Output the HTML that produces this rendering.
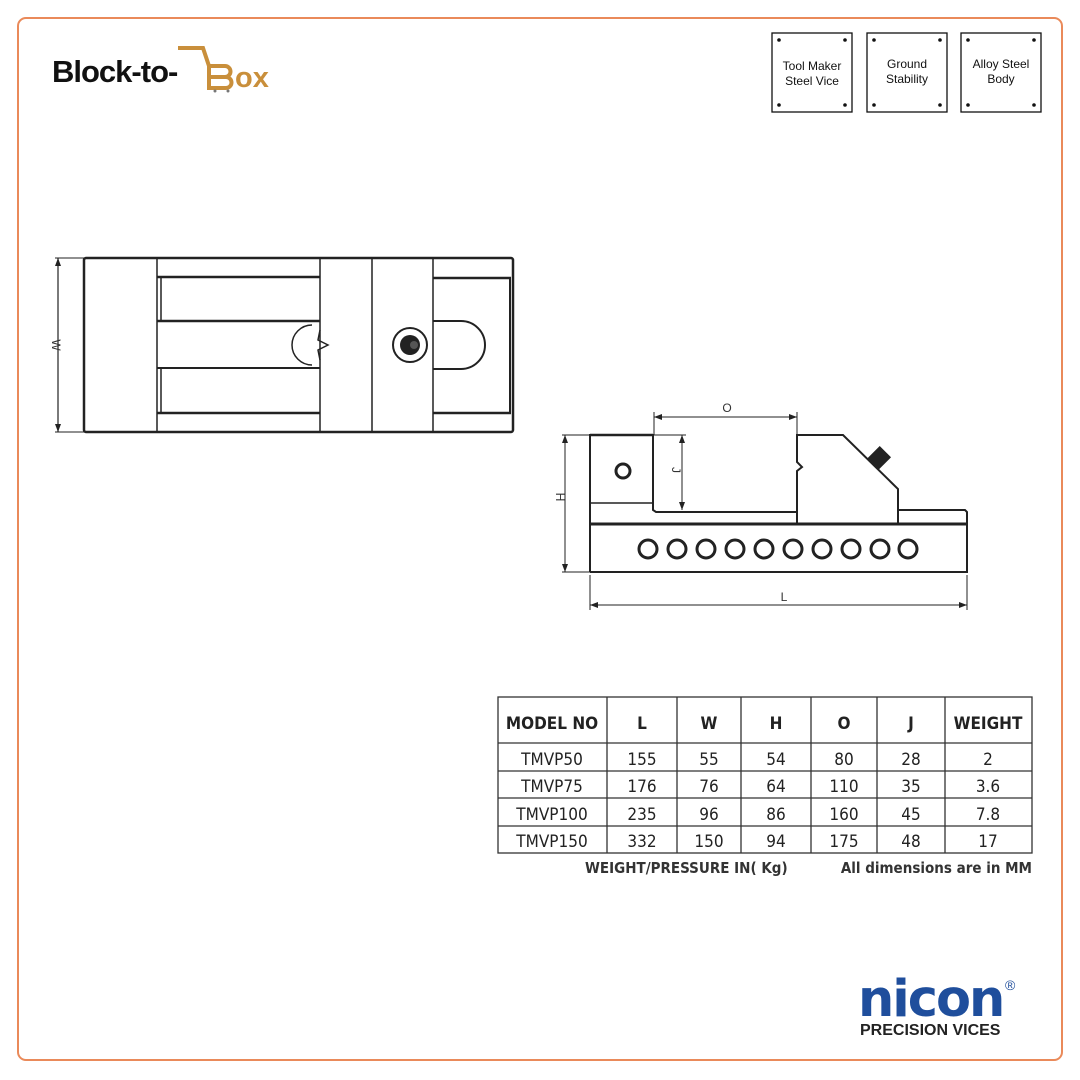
<!DOCTYPE html>
<html><head><meta charset="utf-8"><style>
body{margin:0;width:1080px;height:1080px;background:#fff;overflow:hidden;font-family:"Liberation Sans",sans-serif}
svg{position:absolute;left:0;top:0}
</style></head><body>
<svg width="1080" height="1080" viewBox="0 0 1080 1080">
<rect x="18" y="18" width="1044" height="1042" rx="8" fill="none" stroke="#ea8a5a" stroke-width="2"/>
<!-- logo -->
<text x="52" y="82" font-family="Liberation Sans" font-weight="bold" font-size="31" fill="#111" letter-spacing="-1">Block-to-</text>
<path d="M178 48 H203 L209 66 H225 A5.5 5.5 0 0 1 225 77 H211 M211 77 H226 A5.5 5.5 0 0 1 226 88 H209 V66" fill="none" stroke="#c98f3b" stroke-width="4"/>
<text x="235" y="87" font-family="Liberation Sans" font-weight="bold" font-size="29" fill="#c98f3b">ox</text>
<circle cx="215" cy="91" r="1.5" fill="#777"/><circle cx="228" cy="91" r="1.5" fill="#777"/>
<!-- feature boxes -->
<g font-size="12" fill="#111" text-anchor="middle" font-family="Liberation Sans">
<rect x="772" y="33" width="80" height="79" fill="none" stroke="#111" stroke-width="1.3"/>
<rect x="867" y="33" width="80" height="79" fill="none" stroke="#111" stroke-width="1.3"/>
<rect x="961" y="33" width="80" height="79" fill="none" stroke="#111" stroke-width="1.3"/>
<g fill="#111">
<circle cx="779" cy="40" r="1.8"/><circle cx="845" cy="40" r="1.8"/><circle cx="779" cy="105" r="1.8"/><circle cx="845" cy="105" r="1.8"/>
<circle cx="874" cy="40" r="1.8"/><circle cx="940" cy="40" r="1.8"/><circle cx="874" cy="105" r="1.8"/><circle cx="940" cy="105" r="1.8"/>
<circle cx="968" cy="40" r="1.8"/><circle cx="1034" cy="40" r="1.8"/><circle cx="968" cy="105" r="1.8"/><circle cx="1034" cy="105" r="1.8"/>
</g>
<text x="812" y="70">Tool Maker</text><text x="812" y="85">Steel Vice</text>
<text x="907" y="68">Ground</text><text x="907" y="83">Stability</text>
<text x="1001" y="68">Alloy Steel</text><text x="1001" y="83">Body</text>
</g>
<!-- top view -->
<g fill="none" stroke="#222" stroke-width="1.5">
<rect x="84" y="258" width="429" height="174" rx="2" stroke-width="2.5"/>
<line x1="157" y1="258" x2="157" y2="432"/>
<line x1="157" y1="277" x2="320" y2="277" stroke-width="2.5"/>
<line x1="157" y1="321" x2="320" y2="321" stroke-width="2.5"/>
<line x1="157" y1="368" x2="320" y2="368" stroke-width="2"/>
<line x1="157" y1="413" x2="320" y2="413" stroke-width="2.5"/>
<line x1="161" y1="277" x2="161" y2="321"/><line x1="161" y1="368" x2="161" y2="413"/>
<line x1="320" y1="258" x2="320" y2="432"/>
<line x1="372" y1="258" x2="372" y2="432"/>
<line x1="433" y1="258" x2="433" y2="432"/>
<line x1="433" y1="278" x2="511" y2="278" stroke-width="2.5"/>
<line x1="433" y1="413" x2="511" y2="413" stroke-width="2.5"/>
<line x1="510" y1="278" x2="510" y2="413" stroke-width="2"/>
<path d="M433 321 H461 A24 24 0 0 1 461 369 H433" stroke-width="2"/>
<circle cx="410" cy="345" r="17" stroke-width="2"/>
<path d="M312 325 A20 20 0 0 0 312 365 M320 330 L318 340 L328 345 L318 350 L320 360"/>
<line x1="55" y1="258" x2="84" y2="258" stroke-width="1"/>
<line x1="55" y1="432" x2="84" y2="432" stroke-width="1"/>
<line x1="58" y1="258" x2="58" y2="432" stroke-width="1.2"/>
</g>
<circle cx="410" cy="345" r="10" fill="#222"/>
<circle cx="414" cy="345" r="4" fill="#555"/>
<path d="M55 266 L58 258 L61 266Z M55 424 L58 432 L61 424Z" fill="#222"/>
<text x="0" y="0" transform="translate(52,345) rotate(90)" font-size="12" fill="#333" text-anchor="middle">W</text>
<!-- side view -->
<g fill="none" stroke="#222" stroke-width="1.5">
<path d="M590 572 V435 H653 V503" stroke-width="2"/>
<line x1="590" y1="435" x2="653" y2="435" stroke-width="2.5"/>
<line x1="590" y1="503" x2="653" y2="503"/>
<path d="M653 503 L653 510 L656 512 L797 512" stroke-width="2"/>
<path d="M797 524 V471 L802 467 L797 462 V435 H843 L898 489 V524" stroke-width="2"/>
<path d="M898 510 H965 L967 512 V572 H590" stroke-width="2"/>
<line x1="590" y1="524" x2="967" y2="524" stroke-width="3"/>
<circle cx="623" cy="471" r="7" stroke-width="3"/>
<g stroke-width="3">
<circle cx="648" cy="549" r="9"/><circle cx="677" cy="549" r="9"/><circle cx="706" cy="549" r="9"/><circle cx="735" cy="549" r="9"/><circle cx="764" cy="549" r="9"/><circle cx="793" cy="549" r="9"/><circle cx="822" cy="549" r="9"/><circle cx="851" cy="549" r="9"/><circle cx="880" cy="549" r="9"/><circle cx="908" cy="549" r="9"/>
</g>
<g stroke-width="1">
<line x1="654" y1="412" x2="654" y2="435"/><line x1="797" y1="412" x2="797" y2="435"/>
<line x1="654" y1="417" x2="797" y2="417"/>
<line x1="654" y1="435" x2="686" y2="435"/>
<line x1="682" y1="435" x2="682" y2="510"/>
<line x1="562" y1="435" x2="590" y2="435"/><line x1="562" y1="572" x2="590" y2="572"/>
<line x1="565" y1="435" x2="565" y2="572"/>
<line x1="590" y1="575" x2="590" y2="610"/><line x1="967" y1="575" x2="967" y2="610"/>
<line x1="590" y1="605" x2="967" y2="605"/>
</g>
</g>
<rect x="871" y="449" width="16" height="18" fill="#222" transform="rotate(45 879 458)"/>
<g fill="#222">
<path d="M654 417 L662 414 L662 420Z M797 417 L789 414 L789 420Z"/>
<path d="M682 435 L679 443 L685 443Z M682 510 L679 502 L685 502Z"/>
<path d="M565 435 L562 443 L568 443Z M565 572 L562 564 L568 564Z"/>
<path d="M590 605 L598 602 L598 608Z M967 605 L959 602 L959 608Z"/>
</g>
<g font-size="12" fill="#333" text-anchor="middle">
<text x="727" y="412">O</text>
<text x="784" y="601">L</text>
<text transform="translate(672,470) rotate(90)">J</text>
<text transform="translate(556,497) rotate(90)">H</text>
</g>
<!-- table -->
<g fill="none" stroke="#333" stroke-width="1.3">
<rect x="498" y="697" width="534" height="156"/>
<line x1="607" y1="697" x2="607" y2="853"/><line x1="677" y1="697" x2="677" y2="853"/>
<line x1="741" y1="697" x2="741" y2="853"/><line x1="811" y1="697" x2="811" y2="853"/>
<line x1="877" y1="697" x2="877" y2="853"/><line x1="945" y1="697" x2="945" y2="853"/>
<line x1="498" y1="743" x2="1032" y2="743"/><line x1="498" y1="771" x2="1032" y2="771"/>
<line x1="498" y1="798" x2="1032" y2="798"/><line x1="498" y1="826" x2="1032" y2="826"/>
</g>
<g font-family="DejaVu Sans Condensed, DejaVu Sans, sans-serif" fill="#222" text-anchor="middle" font-size="17">
<g font-weight="bold" font-size="17"><text x="552" y="729">MODEL NO</text><text x="642" y="729">L</text><text x="709" y="729">W</text><text x="776" y="729">H</text><text x="844" y="729">O</text><text x="911" y="729">J</text><text x="988" y="729">WEIGHT</text></g>
<text x="552" y="765">TMVP50</text><text x="642" y="765">155</text><text x="709" y="765">55</text><text x="776" y="765">54</text><text x="844" y="765">80</text><text x="911" y="765">28</text><text x="988" y="765">2</text>
<text x="552" y="792">TMVP75</text><text x="642" y="792">176</text><text x="709" y="792">76</text><text x="776" y="792">64</text><text x="844" y="792">110</text><text x="911" y="792">35</text><text x="988" y="792">3.6</text>
<text x="552" y="820">TMVP100</text><text x="642" y="820">235</text><text x="709" y="820">96</text><text x="776" y="820">86</text><text x="844" y="820">160</text><text x="911" y="820">45</text><text x="988" y="820">7.8</text>
<text x="552" y="847">TMVP150</text><text x="642" y="847">332</text><text x="709" y="847">150</text><text x="776" y="847">94</text><text x="844" y="847">175</text><text x="911" y="847">48</text><text x="988" y="847">17</text>
<text x="585" y="873" text-anchor="start" font-weight="bold" font-size="15" fill="#333">WEIGHT/PRESSURE IN( Kg)</text>
<text x="1032" y="873" text-anchor="end" font-weight="bold" font-size="15" fill="#333">All dimensions are in MM</text>
</g>
<!-- nicon -->
<text x="858" y="1016" font-family="DejaVu Sans" font-weight="bold" font-size="51" fill="#1f4e9c" letter-spacing="-2">nicon</text>
<text x="1005" y="990" font-size="14" fill="#1f4e9c">®</text>
<text x="860" y="1035" font-family="Liberation Sans" font-weight="bold" font-size="16" fill="#222">PRECISION VICES</text>
</svg>
</body></html>
